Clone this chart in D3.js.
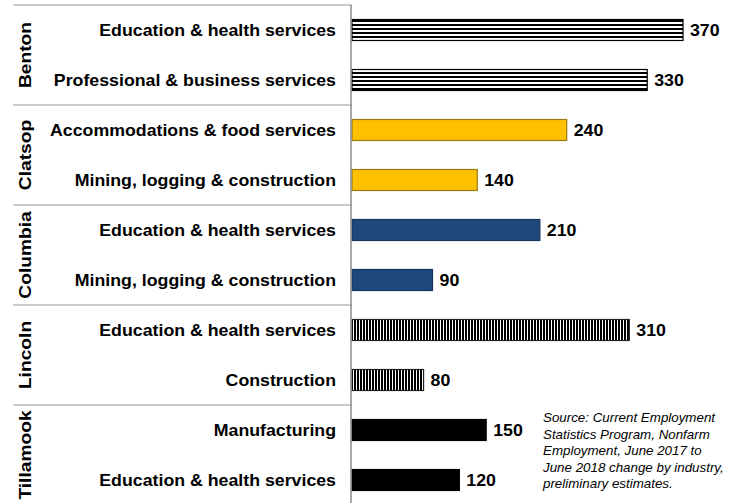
<!DOCTYPE html>
<html>
<head>
<meta charset="utf-8">
<script src="https://cdn.jsdelivr.net/npm/d3@7"></script>
<style>
  html, body { margin: 0; padding: 0; background: #fff; }
  svg { display: block; font-family: "Liberation Sans", Arial, sans-serif; }
</style>
</head>
<body>
<svg id="chart" width="735" height="503"></svg>
<script>
// Job growth by county, top industries (June 2017 to June 2018)
const counties = ["Benton", "Clatsop", "Columbia", "Lincoln", "Tillamook"];
const countyOf = ["Benton", "Benton", "Clatsop", "Clatsop", "Columbia", "Columbia",
                  "Lincoln", "Lincoln", "Tillamook", "Tillamook"];
const industries = [
  "Education & health services", "Professional & business services",
  "Accommodations & food services", "Mining, logging & construction",
  "Education & health services", "Mining, logging & construction",
  "Education & health services", "Construction",
  "Manufacturing", "Education & health services"
];
const values = [370, 330, 240, 140, 210, 90, 310, 80, 150, 120];
const sourceLines = [
  "Source: Current Employment",
  "Statistics Program, Nonfarm",
  "Employment, June 2017 to",
  "June 2018 change by industry,",
  "preliminary estimates."
];

const svg = d3.select("#chart");
const rows = d3.range(values.length);

const x = d3.scaleLinear().domain([0, 370]).range([352, 683]);
const y = d3.scaleBand().domain(rows).range([5, 505]).paddingInner(0.58).paddingOuter(0.29);
const yGroup = d3.scaleBand().domain(counties).range([5, 505]);

// striped fills
const defs = svg.append("defs");
const hp = defs.append("pattern").attr("id", "hstripe").attr("patternUnits", "userSpaceOnUse")
  .attr("width", 8).attr("height", 4);
hp.append("rect").attr("width", 8).attr("height", 4).attr("fill", "#fff");
hp.append("rect").attr("y", 0).attr("width", 8).attr("height", 2).attr("fill", "#000");
const vp = defs.append("pattern").attr("id", "vstripe").attr("patternUnits", "userSpaceOnUse")
  .attr("width", 3).attr("height", 8);
vp.append("rect").attr("width", 3).attr("height", 8).attr("fill", "#fff");
vp.append("rect").attr("x", 0).attr("width", 2).attr("height", 8).attr("fill", "#000");

const style = {
  Benton:    { fill: "url(#hstripe)", stroke: "#000" },
  Clatsop:   { fill: "#FFC000", stroke: "#9A7A10" },
  Columbia:  { fill: "#1F497D", stroke: "#15345A" },
  Lincoln:   { fill: "url(#vstripe)", stroke: "#222" },
  Tillamook: { fill: "#000", stroke: "#000" }
};

// group separators
svg.append("g").selectAll("line").data(d3.range(counties.length))
  .join("line")
  .attr("x1", 13).attr("x2", 352)
  .attr("y1", i => yGroup(counties[i])).attr("y2", i => yGroup(counties[i]))
  .attr("stroke", "#9a9a9a").attr("stroke-width", 1.2);

// bars
svg.append("g").selectAll("rect").data(rows).join("rect")
  .attr("x", x(0))
  .attr("y", i => y(i))
  .attr("width", i => x(values[i]) - x(0))
  .attr("height", y.bandwidth())
  .attr("fill", i => style[countyOf[i]].fill)
  .attr("stroke", i => style[countyOf[i]].stroke)
  .attr("stroke-width", 1.2);

// vertical axis line
svg.append("line").attr("x1", 351).attr("x2", 351).attr("y1", 5).attr("y2", 503)
  .attr("stroke", "#8c8c8c").attr("stroke-width", 1.5);

const SX = 1.11;
// industry labels
svg.append("g").selectAll("text").data(rows).join("text")
  .attr("transform", i => `translate(336,${y(i) + y.bandwidth() / 2}) scale(${SX},1)`)
  .attr("text-anchor", "end").attr("dy", "0.36em")
  .attr("font-size", 16).attr("font-weight", "bold").attr("fill", "#000")
  .text(i => industries[i]);

// value labels
svg.append("g").selectAll("text").data(rows).join("text")
  .attr("transform", i => `translate(${x(values[i]) + 7},${y(i) + y.bandwidth() / 2}) scale(${SX},1)`)
  .attr("dy", "0.36em")
  .attr("font-size", 16).attr("font-weight", "bold").attr("fill", "#000")
  .text(i => values[i]);

// county labels (rotated)
svg.append("g").selectAll("text").data(counties).join("text")
  .attr("transform", c => `translate(31,${yGroup(c) + yGroup.bandwidth() / 2}) rotate(-90) scale(1.2,1)`)
  .attr("text-anchor", "middle")
  .attr("font-size", 16).attr("font-weight", "bold").attr("fill", "#000")
  .text(c => c);

// source note
svg.append("g").selectAll("text").data(sourceLines).join("text")
  .attr("transform", (d, i) => `translate(543,${422 + i * 16.6}) scale(1.06,1)`)
  .attr("font-size", 12.6).attr("font-style", "italic").attr("fill", "#000")
  .text(d => d);
</script>
</body>
</html>
